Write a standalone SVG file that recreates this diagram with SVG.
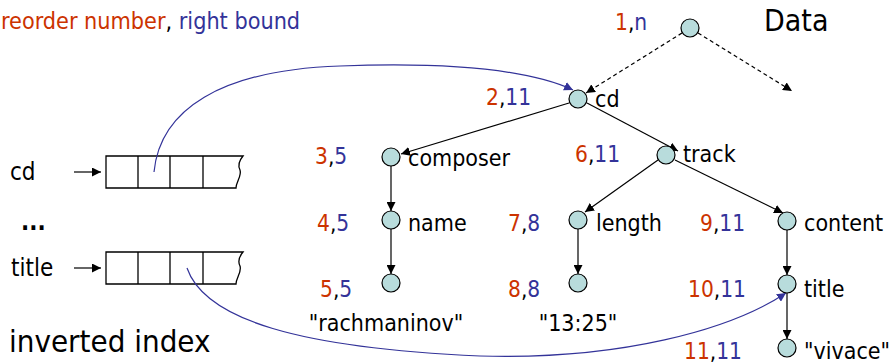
<svg xmlns="http://www.w3.org/2000/svg" width="891" height="364" viewBox="0 0 891 364">
  <defs>
    <marker id="arr" viewBox="0 0 10 10" refX="10" refY="5" markerWidth="9" markerHeight="9" markerUnits="userSpaceOnUse" orient="auto">
      <path d="M0,0 L10,5 L0,10 z" fill="#000"/>
    </marker>
    <marker id="arrb" viewBox="0 0 10 10" refX="10" refY="5" markerWidth="9" markerHeight="9" markerUnits="userSpaceOnUse" orient="auto">
      <path d="M0,0 L10,5 L0,10 z" fill="#333399"/>
    </marker>
    <style>
      text { font-family: "DejaVu Sans Condensed", "DejaVu Sans", Verdana, sans-serif; font-stretch: condensed; }
      .lbl { font-size: 23px; fill: #000; }
      .pre { fill: #CC3300; }
      .rb { fill: #333399; }
      .num { font-size: 22.5px; }
      .node { fill: #b8dcdc; stroke: #000; stroke-width: 1.2; }
      .edge { stroke: #000; stroke-width: 1.2; fill: none; marker-end: url(#arr); }
      .dash { stroke: #000; stroke-width: 1.2; fill: none; stroke-dasharray: 4 3; marker-end: url(#arr); }
      .ptr { stroke: #333399; stroke-width: 1.2; fill: none; marker-end: url(#arrb); }
      .cell { fill: #fff; stroke: #000; stroke-width: 1.3; }
    </style>
  </defs>

  <!-- legend and titles -->
  <text x="1" y="29" class="num" style="font-size:23.2px"><tspan class="pre">reorder number</tspan><tspan>, </tspan><tspan class="rb">right bound</tspan></text>
  <text x="764" y="31" style="font-size:30px">Data</text>
  <text x="9" y="352" style="font-size:31px">inverted index</text>

  <!-- inverted index rows -->
  <g id="index-cd">
    <text x="10" y="180" class="lbl" style="font-size:24px">cd</text>
    <line x1="74" y1="172" x2="101" y2="172" class="edge"/>
    <path d="M106,156 H243 C238,162 238,166 240,170 C242,176 236,182 236,188 H106 Z" class="cell"/>
    <line x1="138" y1="156" x2="138" y2="188" class="cell"/>
    <line x1="170" y1="156" x2="170" y2="188" class="cell"/>
    <line x1="203" y1="156" x2="203" y2="188" class="cell"/>
  </g>
  <g id="index-dots">
    <text x="21" y="230" style="font-size:24px;font-weight:bold">...</text>
  </g>
  <g id="index-title">
    <text x="11" y="276" class="lbl" style="font-size:24px">title</text>
    <line x1="74" y1="268" x2="101" y2="268" class="edge"/>
    <path d="M106,252 H243 C238,258 238,262 240,266 C242,272 236,278 236,284 H106 Z" class="cell"/>
    <line x1="138" y1="252" x2="138" y2="284" class="cell"/>
    <line x1="170" y1="252" x2="170" y2="284" class="cell"/>
    <line x1="203" y1="252" x2="203" y2="284" class="cell"/>
  </g>

  <!-- tree edges and index pointers -->
  <g id="connectors">
    <line x1="682" y1="33" x2="586" y2="93" class="dash"/>
    <line x1="698" y1="33" x2="792" y2="91" class="dash"/>
    <line x1="587" y1="103" x2="678" y2="151" class="edge"/>
    <line x1="569" y1="103" x2="401" y2="154" class="edge"/>
    <line x1="391" y1="166" x2="391" y2="211" class="edge"/>
    <line x1="391" y1="229" x2="391" y2="274" class="edge"/>
    <line x1="658" y1="160" x2="585" y2="212" class="edge"/>
    <line x1="675" y1="160" x2="783" y2="213" class="edge"/>
    <line x1="578" y1="229" x2="578" y2="274" class="edge"/>
    <line x1="787" y1="230" x2="787" y2="275" class="edge"/>
    <line x1="787" y1="293" x2="787" y2="339" class="edge"/>
    <path d="M154,172 C160,110 220,70 340,66 C450,62 530,70 573,90" class="ptr"/>
    <path d="M187,268 C205,320 300,348 480,356 C620,360 730,330 786,293" class="ptr"/>
  </g>

  <!-- tree nodes -->
  <g id="n-root"><circle cx="690" cy="28" r="9" class="node"/><text x="615" y="30" class="num"><tspan class="pre">1</tspan>,<tspan class="rb">n</tspan></text></g>
  <g id="n-cd"><circle cx="578" cy="99" r="9" class="node"/><text x="486" y="105" class="num"><tspan class="pre">2</tspan>,<tspan class="rb">11</tspan></text><text x="595" y="107" class="lbl">cd</text></g>
  <g id="n-composer"><circle cx="391" cy="157" r="9" class="node"/><text x="315" y="164" class="num"><tspan class="pre">3</tspan>,<tspan class="rb">5</tspan></text><text x="408" y="166" class="lbl">composer</text></g>
  <g id="n-name"><circle cx="391" cy="220" r="9" class="node"/><text x="317" y="231" class="num"><tspan class="pre">4</tspan>,<tspan class="rb">5</tspan></text><text x="408" y="231" class="lbl">name</text></g>
  <g id="n-rach"><circle cx="391" cy="283" r="9" class="node"/><text x="320" y="297" class="num"><tspan class="pre">5</tspan>,<tspan class="rb">5</tspan></text><text x="386" y="331" class="lbl" text-anchor="middle">"rachmaninov"</text></g>
  <g id="n-track"><circle cx="666" cy="155" r="9" class="node"/><text x="575" y="162" class="num"><tspan class="pre">6</tspan>,<tspan class="rb">11</tspan></text><text x="683" y="162" class="lbl">track</text></g>
  <g id="n-length"><circle cx="578" cy="220" r="9" class="node"/><text x="508" y="231" class="num"><tspan class="pre">7</tspan>,<tspan class="rb">8</tspan></text><text x="596" y="231" class="lbl">length</text></g>
  <g id="n-time"><circle cx="578" cy="283" r="9" class="node"/><text x="508" y="297" class="num"><tspan class="pre">8</tspan>,<tspan class="rb">8</tspan></text><text x="578" y="331" class="lbl" text-anchor="middle">"13:25"</text></g>
  <g id="n-content"><circle cx="787" cy="221" r="9" class="node"/><text x="700" y="231" class="num"><tspan class="pre">9</tspan>,<tspan class="rb">11</tspan></text><text x="804" y="231" class="lbl">content</text></g>
  <g id="n-title"><circle cx="787" cy="284" r="9" class="node"/><text x="688" y="297" class="num"><tspan class="pre">10</tspan>,<tspan class="rb">11</tspan></text><text x="804" y="297" class="lbl">title</text></g>
  <g id="n-vivace"><circle cx="787" cy="348" r="9" class="node"/><text x="684" y="359" class="num"><tspan class="pre">11</tspan>,<tspan class="rb">11</tspan></text><text x="804" y="359" class="lbl">"vivace"</text></g>
</svg>
